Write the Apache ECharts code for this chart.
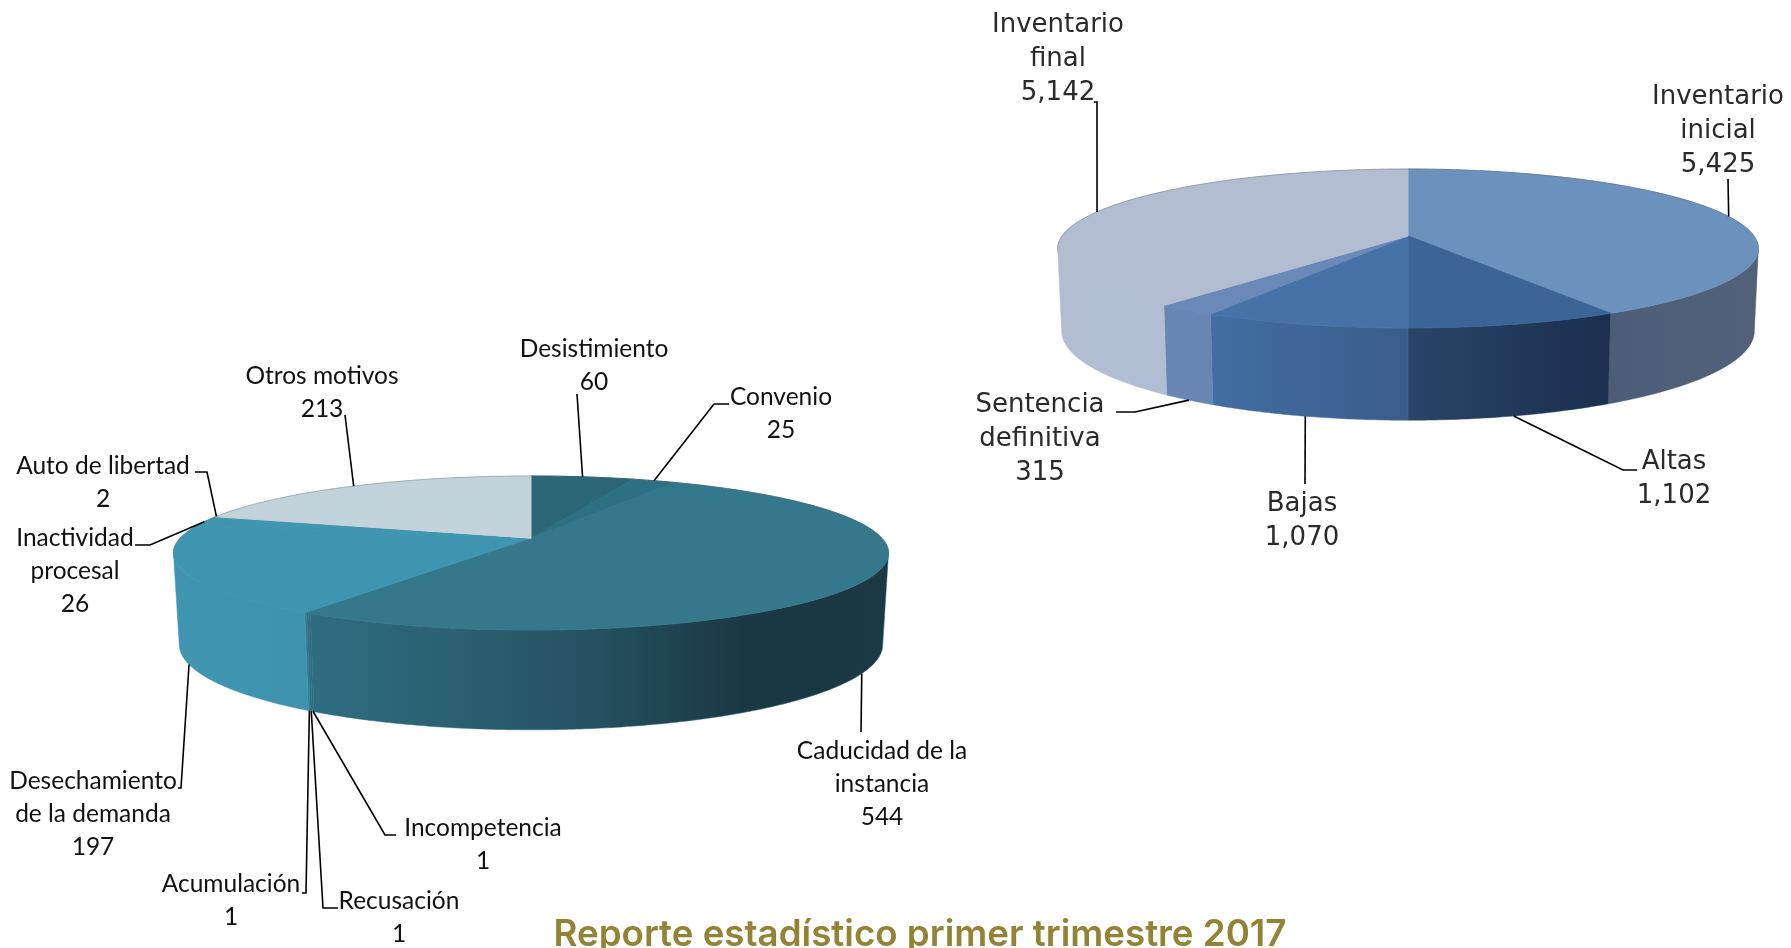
<!DOCTYPE html>
<html>
<head>
<meta charset="utf-8">
<title>Reporte estadístico primer trimestre 2017</title>
<script src="https://cdn.jsdelivr.net/npm/echarts@6/dist/echarts.min.js"></script>
<style>
  html, body { margin: 0; padding: 0; background: #fff; }
  #main { width: 1791px; height: 948px; }
</style>
</head>
<body>
<div id="main"></div>
<script>
// Data (clockwise from 12 o'clock)
const motivosLabels = ["Desistimiento", "Convenio", "Caducidad de la\ninstancia", "Incompetencia", "Recusación", "Acumulación", "Desechamiento\nde la demanda", "Inactividad\nprocesal", "Auto de libertad", "Otros motivos"];
const motivosValues = [60, 25, 544, 1, 1, 1, 197, 26, 2, 213];

const inventarioLabels = ["Inventario\ninicial", "Altas", "Bajas", "Sentencia\ndefinitiva", "Inventario\nfinal"];
const inventarioValues = [5425, 1102, 1070, 315, 5142];

// Slice colours
const motivosTop = ["#2C6778", "#2E7083", "#35788B", "#35788B", "#35788B", "#35788B", "#4096B1", "#4096B1", "#C0D0D8", "#C3D3DB"];
const motivosWall = [
  ["#2C6778", "#2C6778"], ["#2E7083", "#2E7083"],
  ["#2F6C80", "#2A6072", "#25505F", "#1A3844", "#1B3843"],
  ["#2F6C80", "#2F6C80"], ["#2F6C80", "#2F6C80"], ["#35788B", "#35788B"],
  ["#4096B1", "#3F93AE"], ["#4096B1", "#4096B1"], ["#C0D0D8", "#C0D0D8"], ["#C3D3DB", "#C3D3DB"],
];
const inventarioTop = ["#6C91BD", "#3A6596", "#4672A8", "#6A88B8", "#B2BDD2"];
const inventarioWall = [
  ["#4B5D78", "#526178"], ["#2A4568", "#1B2E4E"], ["#416FA3", "#3B5C8A"],
  ["#6886B4", "#6886B4"], ["#B2BDD2", "#B0BDD2"],
];

// Label centres and leader bends, in page pixels
const motivosLabelPos = [[594, 366], [781, 414], [882, 784], [483, 845], [399, 918], [231, 901], [93, 814], [75, 571], [103, 483], [322, 393]];
const motivosBends = [
  [[577, 394]], [[729, 404], [714, 404]], [[861, 732]], [[396, 835], [385, 835]], [[338, 908], [323, 908]],
  [[302, 893], [306, 893]], [[178, 788], [181, 788]], [[135, 545], [150, 545]], [[195, 472], [207, 472]], [[345, 415]],
];
const inventarioLabelPos = [[1718, 131], [1674, 479], [1302, 521], [1040, 439], [1058, 59]];
const inventarioBends = [
  [[1728, 179]], [[1637, 470], [1623, 470]], [[1305, 484]], [[1116, 412], [1135, 412]], [[1094, 102], [1097, 102]],
];

// Perspective view of each disc: a circle seen from above and in front
const motivosView = { cx: 531, cy: 538, a: 350.7, b: 74.1, cyLow: 628, aLow: 345, bLow: 82, p: 0.1948 };
const inventarioView = { cx: 1408, cy: 236, a: 346, b: 77.5, cyLow: 317, aLow: 342, bLow: 87, p: 0.1572 };

function project(view, angle, low) {
  const u = Math.sin(angle);
  const v = -Math.cos(angle);
  const w = 1 - view.p * v;
  return low
    ? [view.cx + (view.aLow * u) / w, view.cyLow + (view.bLow * v) / w]
    : [view.cx + (view.a * u) / w, view.cy + (view.b * v) / w];
}

function arc(view, from, to, low) {
  const steps = Math.max(2, Math.ceil((to - from) / 0.01));
  const pts = [];
  for (let i = 0; i <= steps; i++) {
    pts.push(project(view, from + ((to - from) * i) / steps, low));
  }
  return pts;
}

function wallFill(colors) {
  const stops = colors.map((c, i) => ({ offset: i / (colors.length - 1), color: c }));
  return new echarts.graphic.LinearGradient(0, 0, 1, 0, stops);
}

// One custom series per pie: each slice gets wall, top, leader and label
function pieSeries(labels, values, view, topColors, wallColors, labelPos, bends, font) {
  const total = values.reduce((s, x) => s + x, 0);
  const starts = [];
  values.reduce((s, x, i) => ((starts[i] = s), s + x), 0);
  const turn = (x) => (x / total) * Math.PI * 2;
  // front part of the rim, where the side wall can be seen
  const wallFrom = Math.acos(-view.p);
  const wallTo = Math.PI * 2 - wallFrom;

  return {
    type: "custom",
    coordinateSystem: "none",
    silent: true,
    animation: false,
    data: values,
    renderItem: function (params) {
      const i = params.dataIndex;
      const a0 = turn(starts[i]);
      const a1 = a0 + turn(values[i]);
      const mid = (a0 + a1) / 2;
      const children = [];

      const f = Math.max(a0, wallFrom);
      const t = Math.min(a1, wallTo);
      if (t > f) {
        const wall = arc(view, f, t, false).concat(arc(view, f, t, true).reverse());
        children.push({
          type: "polygon",
          z2: 1,
          shape: { points: wall },
          style: { fill: wallFill(wallColors[i]), stroke: wallColors[i][0], lineWidth: 0.5 },
        });
      }

      const top = [[view.cx, view.cy]].concat(arc(view, a0, a1, false));
      children.push({
        type: "polygon",
        z2: 2,
        shape: { points: top },
        style: { fill: topColors[i], stroke: topColors[i], lineWidth: 1 },
      });

      // thin grey edge along the back of the disc
      const backEnd = Math.min(a1, wallFrom);
      const backStart = Math.max(a0, wallTo);
      if (backEnd > a0) {
        children.push({
          type: "polyline",
          z2: 3,
          shape: { points: arc(view, a0, backEnd, false) },
          style: { fill: null, stroke: "rgba(80,90,100,0.3)", lineWidth: 1 },
        });
      }
      if (a1 > backStart) {
        children.push({
          type: "polyline",
          z2: 3,
          shape: { points: arc(view, backStart, a1, false) },
          style: { fill: null, stroke: "rgba(80,90,100,0.3)", lineWidth: 1 },
        });
      }

      // leader from the slice rim out to the label
      const onFront = -Math.cos(mid) > view.p;
      const rim = project(view, mid, onFront);
      children.push({
        type: "polyline",
        z2: 4,
        shape: { points: bends[i].concat([rim]) },
        style: { fill: null, stroke: "#000", lineWidth: 1.6 },
      });

      children.push({
        type: "text",
        z2: 5,
        style: {
          text: labels[i] + "\n" + values[i].toLocaleString("en-US"),
          x: labelPos[i][0],
          y: labelPos[i][1],
          align: "center",
          verticalAlign: "middle",
          fill: font.color,
          fontSize: font.size,
          fontFamily: font.family,
          fontWeight: font.weight,
          lineHeight: font.lineHeight,
        },
      });
      return { type: "group", children: children };
    },
  };
}

var chart = echarts.init(document.getElementById("main"), null, { renderer: "canvas" });

chart.setOption({
  backgroundColor: "#fff",
  animation: false,
  title: {
    text: "Reporte estadístico primer trimestre 2017",
    left: 915,
    top: 911,
    textAlign: "center",
    textStyle: { color: "#928335", fontFamily: "Inter", fontWeight: 600, fontSize: 36.7 },
  },
  series: [
    pieSeries(motivosLabels, motivosValues, motivosView, motivosTop, motivosWall, motivosLabelPos, motivosBends,
      { size: 24.5, family: "Lato", weight: 400, lineHeight: 33, color: "#111" }),
    pieSeries(inventarioLabels, inventarioValues, inventarioView, inventarioTop, inventarioWall, inventarioLabelPos, inventarioBends,
      { size: 26, family: "DejaVu Sans", weight: 400, lineHeight: 34, color: "#2a2a2a" }),
  ],
});

window.addEventListener("resize", () => chart.resize());
</script>
</body>
</html>
